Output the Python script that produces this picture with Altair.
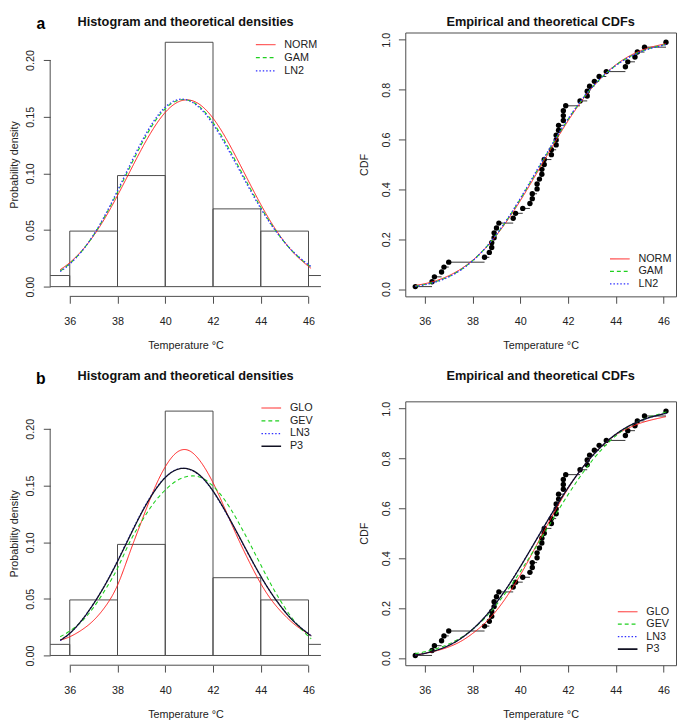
import altair as alt
import pandas as pd

# ---------------- data ----------------
temps = [35.6, 36.3, 36.4, 36.7, 36.8, 37.0,
         38.5, 38.7, 38.8, 38.8, 38.9, 38.9, 39.0, 39.1, 39.7, 39.8,
         40.1, 40.4, 40.5, 40.5, 40.7, 40.7, 40.8, 40.9, 40.9, 41.0, 41.0,
         41.3, 41.3, 41.5, 41.5, 41.5, 41.6, 41.6, 41.8, 41.8, 41.8, 41.9,
         42.5, 42.8, 42.8, 42.9, 43.1, 43.3, 43.6,
         44.4, 44.5, 44.8, 44.9, 45.2, 46.1]

curve_x = [35.6, 36.0, 36.5, 37.0, 37.5, 38.0, 38.5, 39.0, 39.5, 40.0, 40.5, 41.0,
           41.5, 42.0, 42.5, 43.0, 43.5, 44.0, 44.5, 45.0, 45.5, 46.0, 46.1]

# panel a densities
norm_pdf = [0.0150, 0.0212, 0.0316, 0.0450, 0.0614, 0.0804, 0.1008, 0.1211, 0.1394, 0.1538, 0.1626, 0.1647,
            0.1599, 0.1487, 0.1325, 0.1131, 0.0926, 0.0726, 0.0545, 0.0393, 0.0271, 0.0179, 0.0164]
gam_pdf = [0.0138, 0.0203, 0.0312, 0.0456, 0.0632, 0.0834, 0.1048, 0.1256, 0.1437, 0.1571, 0.1642, 0.1643,
           0.1576, 0.1449, 0.1280, 0.1087, 0.0889, 0.0701, 0.0532, 0.0391, 0.0277, 0.0190, 0.0175]
ln2_pdf = [0.0133, 0.0199, 0.0311, 0.0458, 0.0640, 0.0847, 0.1065, 0.1275, 0.1455, 0.1584, 0.1649, 0.1641,
           0.1566, 0.1434, 0.1261, 0.1069, 0.0874, 0.0690, 0.0527, 0.0391, 0.0280, 0.0194, 0.0180]
# panel a CDFs
norm_cdf = [0.0143, 0.0214, 0.0345, 0.0535, 0.0800, 0.1155, 0.1606, 0.2162, 0.2815, 0.3550, 0.4345, 0.5165,
            0.5979, 0.6753, 0.7457, 0.8073, 0.8586, 0.8999, 0.9316, 0.9549, 0.9713, 0.9824, 0.9842]
gam_cdf = [0.0115, 0.0182, 0.0310, 0.0500, 0.0771, 0.1138, 0.1607, 0.2185, 0.2860, 0.3614, 0.4422, 0.5245,
           0.6052, 0.6810, 0.7493, 0.8087, 0.8579, 0.8977, 0.9284, 0.9514, 0.9679, 0.9794, 0.9813]
ln2_cdf = [0.0104, 0.0169, 0.0296, 0.0486, 0.0759, 0.1131, 0.1607, 0.2194, 0.2879, 0.3641, 0.4453, 0.5278,
           0.6082, 0.6834, 0.7508, 0.8092, 0.8576, 0.8967, 0.9271, 0.9499, 0.9665, 0.9782, 0.9801]

# panel b densities
glo_pdf = [0.0135, 0.0165, 0.0225, 0.0310, 0.0435, 0.0620, 0.0900, 0.1180, 0.1450, 0.1665, 0.1795, 0.1808,
           0.1705, 0.1525, 0.1295, 0.1055, 0.0835, 0.0635, 0.0475, 0.0355, 0.0260, 0.0190, 0.0178]
gev_pdf = [0.0165, 0.0215, 0.0300, 0.0425, 0.0585, 0.0770, 0.0995, 0.1180, 0.1340, 0.1460, 0.1545, 0.1583,
           0.1570, 0.1495, 0.1370, 0.1200, 0.1005, 0.0800, 0.0600, 0.0425, 0.0280, 0.0168, 0.0150]
ln3_pdf = [0.0133, 0.0193, 0.0309, 0.0458, 0.0634, 0.0836, 0.1052, 0.1262, 0.1441, 0.1573, 0.1644, 0.1644,
           0.1577, 0.1448, 0.1275, 0.1083, 0.0886, 0.0697, 0.0531, 0.0391, 0.0279, 0.0192, 0.0178]
p3_pdf = [0.0135, 0.0195, 0.0310, 0.0457, 0.0630, 0.0830, 0.1045, 0.1255, 0.1435, 0.1570, 0.1642, 0.1645,
          0.1580, 0.1452, 0.1280, 0.1088, 0.0890, 0.0700, 0.0532, 0.0390, 0.0277, 0.0190, 0.0176]
# panel b CDFs
glo_cdf = [0.0110, 0.0180, 0.0290, 0.0440, 0.0660, 0.0980, 0.1380, 0.1900, 0.2560, 0.3330, 0.4200, 0.5100,
           0.5980, 0.6800, 0.7510, 0.8100, 0.8570, 0.8950, 0.9210, 0.9410, 0.9550, 0.9660, 0.9680]
gev_cdf = [0.0170, 0.0246, 0.0375, 0.0556, 0.0809, 0.1148, 0.1589, 0.2133, 0.2763, 0.3463, 0.4214, 0.4996,
           0.5784, 0.6550, 0.7266, 0.7909, 0.8460, 0.8911, 0.9261, 0.9517, 0.9693, 0.9835, 0.9880]
ln3_cdf = [0.0112, 0.0179, 0.0306, 0.0496, 0.0772, 0.1148, 0.1630, 0.2225, 0.2905, 0.3668, 0.4472, 0.5287,
           0.6085, 0.6834, 0.7506, 0.8090, 0.8577, 0.8972, 0.9276, 0.9505, 0.9668, 0.9786, 0.9806]
p3_cdf = [0.0115, 0.0182, 0.0310, 0.0500, 0.0775, 0.1150, 0.1630, 0.2220, 0.2900, 0.3660, 0.4465, 0.5280,
          0.6080, 0.6830, 0.7505, 0.8090, 0.8580, 0.8975, 0.9280, 0.9510, 0.9670, 0.9790, 0.9810]

names_a = ["NORM", "GAM", "LN2"]
names_b = ["GLO", "GEV", "LN3", "P3"]

x_ticks = [36, 38, 40, 42, 44, 46]
pdf_ticks = [0.0, 0.05, 0.10, 0.15, 0.20]
cdf_ticks = [0.0, 0.2, 0.4, 0.6, 0.8, 1.0]
x_domain = [35.18, 46.52]
pdf_domain = [-0.0086, 0.2243]
cdf_domain = [-0.0294, 1.0294]
hist_extent = [34, 48]
hist_step = 2

dens_title = "Histogram and theoretical densities"
cdf_title = "Empirical and theoretical CDFs"

# ---------------- styles ----------------
FONT = "Liberation Sans"
W, H = 276, 269
INK = "#4a4a4a"
TXT = "#222222"
colors_a = ["#FF1a1a", "#1fd01f", "#3030ff"]
dashes_a = [[1, 0], [4, 3], [1.5, 2]]
widths_a = [1, 1.3, 1.3]
colors_b = ["#FF1a1a", "#1fd01f", "#3030ff", "#111122"]
dashes_b = [[1, 0], [4, 3], [1.5, 2], [1, 0]]
widths_b = [1, 1.3, 1.3, 1.7]

n_obs = len(temps)
obs = pd.DataFrame({"temp": temps})


def long_df(names, arrays):
    rows = []
    for nm, arr in zip(names, arrays):
        for xv, yv in zip(curve_x, arr):
            rows.append({"x": xv, "y": yv, "dist": nm})
    return pd.DataFrame(rows)


def xs(field):
    return alt.X(field, type="quantitative",
                 scale=alt.Scale(domain=x_domain, nice=False, zero=False),
                 axis=alt.Axis(values=x_ticks, title="Temperature °C", labelPadding=13, titlePadding=13))


def ys(field, domain, ticks, fmt, title, title_pad, label_pad):
    return alt.Y(field, type="quantitative",
                 scale=alt.Scale(domain=domain, nice=False, zero=False),
                 axis=alt.Axis(values=ticks, format=fmt, title=title, labelAngle=-90,
                               labelPadding=label_pad, titlePadding=title_pad))


def curve_layer(df, names, colors, dashes, widths, yenc):
    return alt.Chart(df).mark_line(interpolate="natural").encode(
        x=xs("x"),
        y=yenc,
        color=alt.Color("dist:N", scale=alt.Scale(domain=names, range=colors), legend=None),
        strokeDash=alt.StrokeDash("dist:N", scale=alt.Scale(domain=names, range=dashes), legend=None),
        strokeWidth=alt.StrokeWidth("dist:N", scale=alt.Scale(domain=names, range=widths), legend=None),
        order=alt.Order("x:Q"),
    )


def key_layers(names, colors, dashes, widths, lx, ly, step):
    """Legend drawn as small rule + text marks (no box, like R's bty='n')."""
    out = []
    for i, nm in enumerate(names):
        yc = ly + i * step
        out.append(alt.Chart(pd.DataFrame({"k": [nm]})).mark_rule(
            stroke=colors[i], strokeDash=dashes[i], strokeWidth=widths[i]
        ).encode(x=alt.value(lx), x2=alt.value(lx + 20), y=alt.value(yc)))
        out.append(alt.Chart(pd.DataFrame({"k": [nm]})).mark_text(
            font=FONT, fontSize=11, color=TXT, align="left", baseline="middle"
        ).encode(text="k:N", x=alt.value(lx + 29), y=alt.value(yc)))
    return out


def heading(text, ty):
    return alt.Chart(pd.DataFrame({"t": [text]})).mark_text(
        font=FONT, fontSize=13, fontWeight="bold", color="#111111", align="center", baseline="top"
    ).encode(text="t:N", x=alt.value(W / 2), y=alt.value(ty))


def tag_mark(tag, ty):
    return alt.Chart(pd.DataFrame({"t": [tag]})).mark_text(
        font=FONT, fontSize=16, fontWeight="bold", color="#000000", align="center", baseline="top"
    ).encode(text="t:N", x=alt.value(-9.5), y=alt.value(ty))


def density_panel(names, arrays, colors, dashes, widths, tag, lx, ly, step, title_y, tag_y):
    yenc = ys("dens", pdf_domain, pdf_ticks, ".2f", "Probability density", 5, 8)
    hist = alt.Chart(obs).transform_bin(
        as_=["lo", "hi"], field="temp", bin=alt.Bin(extent=hist_extent, step=hist_step)
    ).transform_aggregate(
        cnt="count()", groupby=["lo", "hi"]
    ).transform_calculate(
        dens=f"datum.cnt / ({n_obs} * {hist_step})"
    ).mark_rect(fillOpacity=0, stroke=INK, strokeWidth=1, clip=True).encode(
        x=xs("lo"), x2="hi:Q", y=yenc, y2=alt.datum(0)
    )
    xline = alt.Chart(pd.DataFrame({"a": [x_ticks[0]], "b": [x_ticks[-1]]})).mark_rule(
        color=INK, strokeWidth=1).encode(x=xs("a"), x2="b:Q", y=alt.datum(pdf_domain[0]))
    yline = alt.Chart(pd.DataFrame({"a": [pdf_ticks[0]], "b": [pdf_ticks[-1]]})).mark_rule(
        color=INK, strokeWidth=1).encode(y=ys("a", pdf_domain, pdf_ticks, ".2f", "Probability density", 5, 8),
                                         y2="b:Q", x=alt.datum(x_domain[0]))
    df = long_df(names, arrays).rename(columns={"y": "dens"})
    curves = curve_layer(df, names, colors, dashes, widths, yenc)
    layers = [hist, xline, yline, curves] + key_layers(names, colors, dashes, widths, lx, ly, step) + \
             [heading(dens_title, title_y), tag_mark(tag, tag_y)]
    return alt.layer(*layers).properties(width=W, height=H)


def cdf_panel(names, arrays, colors, dashes, widths, lx, ly, step, title_y):
    yenc = ys("p", cdf_domain, cdf_ticks, ".1f", "CDF", 12, 7)
    base = alt.Chart(obs).transform_window(
        rank="row_number()", nxt="lead(temp)", sort=[alt.SortField("temp", order="ascending")]
    ).transform_calculate(
        p=f"(datum.rank - 0.5) / {n_obs}"
    )
    steps = base.transform_filter("datum.nxt != null").mark_rule(color="#333333", strokeWidth=1).encode(
        x=xs("temp"), x2="nxt:Q", y=yenc)
    pts = base.mark_circle(size=30, color="#000000", opacity=1).encode(x=xs("temp"), y=yenc)
    df = long_df(names, arrays).rename(columns={"y": "p"})
    curves = curve_layer(df, names, colors, dashes, widths, yenc)
    layers = [steps, pts, curves] + key_layers(names, colors, dashes, widths, lx, ly, step) + \
             [heading(cdf_title, title_y)]
    return alt.layer(*layers).properties(
        width=W, height=H,
        view=alt.ViewBackground(stroke=INK, strokeWidth=1),
    )


a_den = density_panel(names_a, [norm_pdf, gam_pdf, ln2_pdf], colors_a, dashes_a, widths_a,
                      "a", 209.7, 12.4, 13.3, -17, -17)
a_cdf = cdf_panel(names_a, [norm_cdf, gam_cdf, ln2_cdf], colors_a, dashes_a, widths_a, 208.7, 230.8, 12.7, -17)
b_den = density_panel(names_b, [glo_pdf, gev_pdf, ln3_pdf, p3_pdf], colors_b, dashes_b, widths_b,
                      "b", 215.4, 6.8, 13.0, -32, -31)
b_cdf = cdf_panel(names_b, [glo_cdf, gev_cdf, ln3_cdf, p3_cdf], colors_b, dashes_b, widths_b,
                  216.7, 214.5, 12.7, -32)

ind = dict(color="independent", strokeDash="independent", strokeWidth="independent")
top = alt.hconcat(a_den, a_cdf, spacing=36).resolve_scale(**ind)
bottom = alt.hconcat(b_den, b_cdf, spacing=36).resolve_scale(**ind)

chart = alt.vconcat(top, bottom, spacing=18).resolve_scale(**ind).properties(
    padding=0
).configure_axis(
    labelFont=FONT, labelFontSize=11, labelColor=TXT, titleFont=FONT, titleFontSize=11,
    titleFontWeight="normal", titleColor=TXT, tickColor=INK, tickSize=7, tickWidth=1,
    grid=False, domain=False, labelFlush=False
).configure_view(
    stroke="transparent"
)

chart.save("out.html", embed_options={"renderer": "svg", "actions": False})
